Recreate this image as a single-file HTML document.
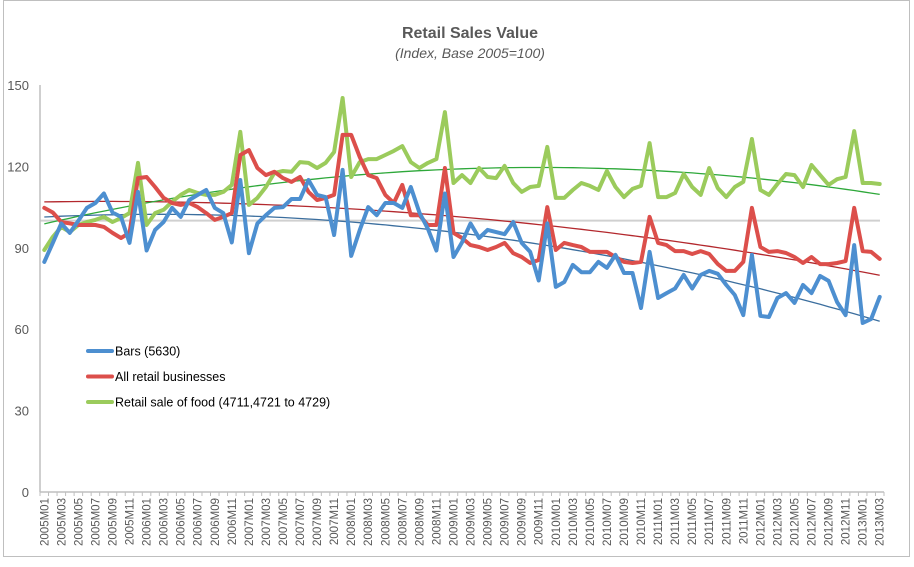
<!DOCTYPE html>
<html><head><meta charset="utf-8">
<style>
html,body{margin:0;padding:0;background:#fff;}
body{width:914px;height:562px;overflow:hidden;font-family:"Liberation Sans",sans-serif;}
</style></head>
<body>
<svg id="chart" width="914" height="562" xmlns="http://www.w3.org/2000/svg" style="font-family:'Liberation Sans',sans-serif">
<rect x="3.5" y="0.5" width="906" height="556" fill="#fff" stroke="#bfbfbf"/>
<text x="470" y="38" text-anchor="middle" font-size="16" font-weight="bold" fill="#595959">Retail Sales  Value</text>
<text x="470" y="58" text-anchor="middle" font-size="14" font-style="italic" fill="#595959">(Index, Base 2005=100)</text>
<g id="grid"></g><g id="axes"></g><g id="trends"></g><g id="series"></g><g id="legend"></g>
</svg>
<script>
const yTicks=[0,30,60,90,120,150];
const startYear=2005, nMonths=99;
const bars=[84.8,91.8,99,95.5,100,104.7,106.5,110,103,101.4,91.8,110.6,89,96.6,99.5,104.7,101.4,107.6,109.5,111.3,104.7,102.8,92,115,88,
99,102,104.7,105,108,108,115,109.5,108.7,94.7,118.7,87,96.5,105,102,106.5,106.5,104.7,112.4,103,97,89,110,86.6,92,99,
93.6,96.6,95.8,95,99.5,91.8,88.5,78,99,75.6,77.4,83.7,81,81,84.8,82.6,87.4,80.7,80.7,67.8,88.5,71.5,73.3,
75,80,75,80,81.5,80.4,76.3,72.6,65.2,87.4,64.9,64.5,71.5,73.3,69.7,76.3,73.3,79.6,77.8,70,65.2,91,62.3,63.8,71.9];
const allRetail=[104.7,103,99.5,99,98.4,98.4,98.4,97.7,95.5,93.6,95.5,115.7,116.1,112.4,108.4,106.5,105.8,106.5,105,102.8,100.3,101.4,102.8,124.2,126,
119.4,116.8,118,115.7,114.3,116.1,110.6,107.6,108.4,109.5,131.6,131.6,123.5,116.8,115.7,109.5,106.5,113.2,102,102,98.4,98.4,119.4,95.5,93.6,91,
90.3,89.2,90.3,91.8,88,86.6,84.4,85.5,105,89.2,91.8,91,90.3,88.5,88.5,88.5,86.6,84.8,84.4,84.8,101.4,91.8,91,
88.8,88.8,87.7,88.8,87.7,84,81.5,81.5,84.8,104.7,90.3,88.5,88.8,88.1,86.6,84.4,86.6,84,84,84.4,85.1,104.7,88.8,88.5,85.9];
const food=[89.2,94,97.7,95.8,98.4,99.5,100.3,101.4,99.5,101,102.8,121.3,98.4,102.8,104,107,109.5,111.3,110.2,109.5,109.5,110.6,113.2,132.7,105.8,
108.4,112.4,117.6,118.3,118,121.6,121.3,119.4,121.3,125.3,145.2,116.1,121.6,122.7,122.7,124.2,125.7,127.5,121.6,119.4,121.3,122.7,140,113.9,116.8,113.9,
119.4,116.1,115.7,120.2,113.9,110.6,112.4,112.8,127.2,108.4,108.4,111.3,113.9,112.8,111.3,118.3,112.4,108.7,111.7,112.8,128.6,108.7,108.7,
110.2,117.2,112.4,109.5,119.4,112,108.7,112.4,114.3,130.1,111.3,109.5,113.5,117.2,116.8,112.4,120.5,116.8,113.2,115.3,116.1,133,113.9,113.9,113.5];
const seriesNames=["Bars (5630)","All retail businesses","Retail sale of food (4711,4721 to 4729)"];

const NS="http://www.w3.org/2000/svg";
const X0=40,X1=884,Y0=492,Y1=85,VMAX=150;
const n=bars.length;
const step=(X1-X0)/n;
const xs=i=>X0+step*(i+0.5);
const ys=v=>Y0-(v/VMAX)*(Y0-Y1);
function mk(tag,attrs,parent){const e=document.createElementNS(NS,tag);for(const k in attrs)e.setAttribute(k,attrs[k]);parent.appendChild(e);return e;}
const axes=document.getElementById('axes');
// y axis
let e=mk('line',{x1:X0,y1:Y1,x2:X0,y2:Y0,stroke:'#bfbfbf','stroke-width':1.5},axes);


e=mk('line',{x1:X0,y1:Y0,x2:X1,y2:Y0,stroke:'#bfbfbf','stroke-width':1.5},axes);


yTicks.forEach(t=>{
  const tx=mk('text',{x:29,y:ys(t)+5,'text-anchor':'end','font-size':13,fill:'#595959'},axes);
  tx.textContent=t;
  
  
});
for(let i=0;i<=n;i++){
  const tk=mk('line',{x1:X0+step*i,y1:Y0,x2:X0+step*i,y2:Y0+4,stroke:'#bfbfbf','stroke-width':1},axes);
  
  
}
for(let i=0;i<n;i+=2){
  const yr=startYear+Math.floor(i/12), m=(i%12)+1;
  const lbl=yr+'M'+(m<10?'0':'')+m;
  const x=xs(i)+4;
  const tx=mk('text',{x:x,y:498,'text-anchor':'end','font-size':11.5,fill:'#595959',transform:`rotate(-90 ${x} 498)`},axes);
  tx.textContent=lbl;
  
  
}
// 100 reference line
e=mk('line',{x1:X0,y1:ys(100),x2:X1-4,y2:ys(100),stroke:'#d0d0d0','stroke-width':2},document.getElementById('grid'));



function quadFit(d){
  let S=[0,0,0,0,0],T=[0,0,0];
  d.forEach((y,x)=>{let p=1;for(let k=0;k<5;k++){S[k]+=p;if(k<3)T[k]+=p*y;p*=x;}});
  const A=[[S[0],S[1],S[2],T[0]],[S[1],S[2],S[3],T[1]],[S[2],S[3],S[4],T[2]]];
  for(let i=0;i<3;i++){for(let j=i+1;j<3;j++){const f=A[j][i]/A[i][i];for(let k=i;k<4;k++)A[j][k]-=f*A[i][k];}}
  const c=[0,0,0];
  for(let i=2;i>=0;i--){let s=A[i][3];for(let k=i+1;k<3;k++)s-=A[i][k]*c[k];c[i]=s/A[i][i];}
  return x=>c[0]+c[1]*x+c[2]*x*x;
}
const colors=['#4d8fd0','#dc4f4b','#9bcb5c'];
const trendColors=['#3b6e9e','#b3282d','#2ea83a'];
const data=[bars,allRetail,food];
const tg=document.getElementById('trends'), sg=document.getElementById('series');
const snames=['bars-line','all-retail-line','food-line'];
const tnames=['bars-trendline','all-retail-trendline','food-trendline'];
[2,1,0].forEach(s=>{
  const pts=data[s].map((v,i)=>xs(i).toFixed(1)+','+ys(v).toFixed(1)).join(' ');
  const pl=mk('polyline',{points:pts,fill:'none',stroke:colors[s],'stroke-width':4,'stroke-linejoin':'round','stroke-linecap':'round'},sg);
  
  
});
[0,1,2].forEach(s=>{
  const f=quadFit(data[s]);
  const pts=data[s].map((v,i)=>xs(i).toFixed(1)+','+ys(f(i)).toFixed(1)).join(' ');
  const tl=mk('polyline',{points:pts,fill:'none',stroke:trendColors[s],'stroke-width':1.3},tg);
  
  
});
const lg=document.getElementById('legend');
const lnames=['legend-bars','legend-all-retail','legend-food'];
seriesNames.forEach((nm,s)=>{
  const y=351+s*25.5;
  const g=mk('g',{},lg);
  
  
  mk('line',{x1:88,y1:y,x2:112,y2:y,stroke:colors[s],'stroke-width':4,'stroke-linecap':'round'},g);
  const t=mk('text',{x:115,y:y+4.5,'font-size':12.5,fill:'#000'},g);
  t.textContent=nm;
});
</script>
</body></html>
